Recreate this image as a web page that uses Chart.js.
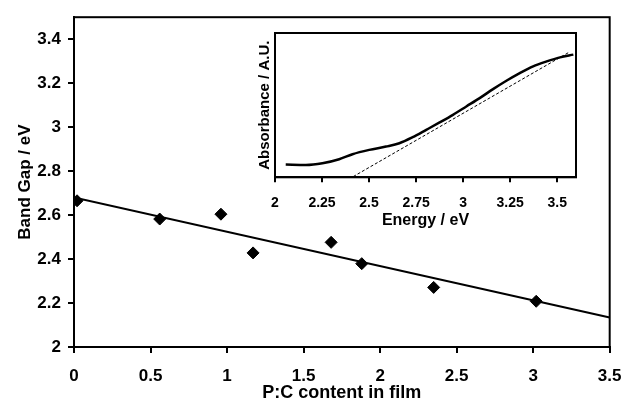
<!doctype html>
<html lang="en">
  <head>
    <meta charset="utf-8">
    <title>Band gap vs P:C content</title>
    <style>
      * { margin: 0; padding: 0; }
      body { background: #fff; }
      .wrap { position: relative; width: 635px; height: 402px; }
      #mainChart { position: absolute; left: 0; top: 0; }
      #insetChart { position: absolute; left: 240px; top: 25px; }
    </style>
  </head>
  <body>
    <div class="wrap">
      <canvas id="mainChart" width="635" height="402"></canvas>
      <canvas id="insetChart" width="350" height="215"></canvas>
    </div>

    <script src="https://cdn.jsdelivr.net/npm/chart.js"></script>
    <script>
    // main data: band gap vs P:C content
    const pcContent = [0.02, 0.56, 0.96, 1.17, 1.68, 1.88, 2.35, 3.02];
    const bandGap = [2.665, 2.582, 2.604, 2.428, 2.476, 2.379, 2.271, 2.208];
    const fitX = [0, 3.5];
    const fitY = [2.68, 2.134];
    const xTicks = [0, 0.5, 1, 1.5, 2, 2.5, 3, 3.5];
    const yTicks = [2, 2.2, 2.4, 2.6, 2.8, 3, 3.2, 3.4];

    // inset data: absorbance spectrum (arbitrary units)
    const energy = [2.057, 2.164, 2.252, 2.341, 2.412, 2.501, 2.590, 2.661, 2.732, 2.804,
                    2.875, 2.946, 3.017, 3.088, 3.159, 3.230, 3.301, 3.372, 3.444, 3.515, 3.586];
    const absorbance = [0.088, 0.085, 0.097, 0.125, 0.160, 0.190, 0.213, 0.236, 0.278, 0.329,
                        0.380, 0.433, 0.491, 0.549, 0.611, 0.669, 0.722, 0.769, 0.803, 0.831, 0.850];
    const tangentX = [2.416, 3.565];
    const tangentY = [0.005, 0.868];
    const insetTicks = [2, 2.25, 2.5, 2.75, 3, 3.25, 3.5];

    Chart.defaults.color = '#000';
    Chart.defaults.font.family = "'Liberation Sans', Arial, sans-serif";

    const fmt = v => String(+Number(v).toFixed(2));

    // closed frame round the plot area
    const boxPlugin = {
      id: 'boxPlugin',
      afterDraw(chart) {
        const {ctx, chartArea: {left, top, width, height}} = chart;
        ctx.save();
        ctx.strokeStyle = '#000';
        ctx.lineWidth = 2;
        ctx.strokeRect(left, top, width, height);
        ctx.restore();
      }
    };

    const mainChart = new Chart(document.getElementById('mainChart'), {
      type: 'scatter',
      data: {
        datasets: [{
          data: pcContent.map((x, i) => ({x, y: bandGap[i]})),
          pointStyle: 'rectRot',
          pointRadius: 6,
          backgroundColor: '#000',
          borderColor: '#000'
        }, {
          data: fitX.map((x, i) => ({x, y: fitY[i]})),
          showLine: true,
          pointRadius: 0,
          borderColor: '#000',
          borderWidth: 2
        }]
      },
      options: {
        responsive: false,
        animation: false,
        layout: { padding: { top: 11, right: 22, left: 0, bottom: 0 } },
        plugins: { legend: { display: false }, tooltip: { enabled: false } },
        scales: {
          x: {
            type: 'linear', min: 0, max: 3.5,
            afterBuildTicks: s => { s.ticks = xTicks.map(v => ({value: v})); },
            afterFit: s => { s.height = 55; },
            ticks: { font: { size: 17, weight: 'bold' }, padding: 13.5, callback: fmt, maxRotation: 0 },
            grid: { drawOnChartArea: false, tickLength: 6, color: '#000', lineWidth: 2 },
            border: { color: '#000', width: 2 },
            title: { display: true, text: 'P:C content in film', font: { size: 18, weight: 'bold', lineHeight: 1 }, padding: { top: 0, bottom: 0 } }
          },
          y: {
            min: 2, max: 3.5,
            afterBuildTicks: s => { s.ticks = yTicks.map(v => ({value: v})); },
            afterFit: s => { s.width = 74; },
            ticks: { font: { size: 17, weight: 'bold' }, padding: 7, callback: fmt },
            grid: { drawOnChartArea: false, tickLength: 6, color: '#000', lineWidth: 2 },
            border: { color: '#000', width: 2 },
            title: { display: true, text: 'Band Gap / eV', font: { size: 17, weight: 'bold', lineHeight: 1 }, padding: { top: 16.5, bottom: 0 } }
          }
        }
      },
      plugins: [boxPlugin]
    });

    const insetChart = new Chart(document.getElementById('insetChart'), {
      type: 'scatter',
      data: {
        datasets: [{
          data: energy.map((x, i) => ({x, y: absorbance[i]})),
          showLine: true,
          pointRadius: 0,
          borderColor: '#000',
          borderWidth: 2.5,
          cubicInterpolationMode: 'monotone'
        }, {
          data: tangentX.map((x, i) => ({x, y: tangentY[i]})),
          showLine: true,
          pointRadius: 0,
          borderColor: '#000',
          borderWidth: 1,
          borderDash: [3, 2]
        }]
      },
      options: {
        responsive: false,
        animation: false,
        layout: { padding: { top: 8, right: 14, left: 0, bottom: 0 } },
        plugins: { legend: { display: false }, tooltip: { enabled: false } },
        scales: {
          x: {
            type: 'linear', min: 2, max: 3.6,
            afterBuildTicks: s => { s.ticks = insetTicks.map(v => ({value: v})); },
            afterFit: s => { s.height = 62.7; },
            ticks: { font: { size: 14, weight: 'bold' }, padding: 12.6, callback: fmt, maxRotation: 0 },
            grid: { drawOnChartArea: false, tickLength: 5, color: '#000', lineWidth: 2 },
            border: { color: '#000', width: 2 },
            title: { display: true, text: 'Energy / eV', font: { size: 16, weight: 'bold', lineHeight: 1 }, padding: { top: 0, bottom: 11 } }
          },
          y: {
            min: 0, max: 1,
            afterFit: s => { s.width = 35; },
            ticks: { display: false },
            grid: { display: false },
            border: { color: '#000', width: 2 },
            title: { display: true, text: 'Absorbance / A.U.', font: { size: 15, weight: 'bold', lineHeight: 1 }, padding: { top: 17.5, bottom: 0 } }
          }
        }
      },
      plugins: [boxPlugin]
    });
    </script>
  </body>
</html>
